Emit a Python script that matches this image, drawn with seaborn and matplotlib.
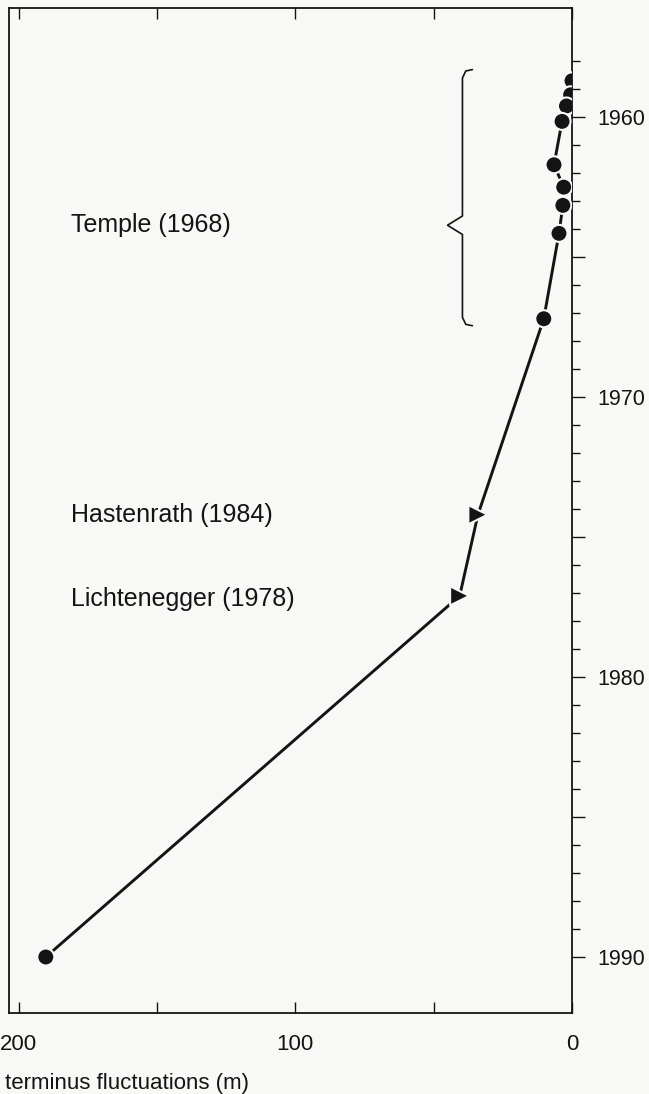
import numpy as np
import pandas as pd
import matplotlib
matplotlib.use('Agg')
import matplotlib.pyplot as plt
import seaborn as sns

# terminus position (m of retreat from the 1958 front) against year
years = [1958.7, 1959.2, 1959.6, 1960.15, 1961.7, 1962.5, 1963.15, 1964.15,
         1967.2, 1974.2, 1977.1, 1990.0]
retreat = [0.0, 0.5, 2.0, 3.6, 6.5, 3.0, 3.3, 4.7, 10.2, 34.0, 40.6, 190.2]
kind = ['circle'] * 9 + ['triangle', 'triangle', 'circle']

# source labels and the span of the Temple (1968) series
sources = ['Temple (1968)', 'Hastenrath (1984)', 'Lichtenegger (1978)']
source_years = [1963.86, 1974.2, 1977.2]
temple_span = [1958.3, 1967.45]

year_ticks = [1960, 1970, 1980, 1990]
dist_ticks = [200, 150, 100, 50, 0]
dist_labels = ['200', '', '100', '', '0']

df = pd.DataFrame({'year': years, 'retreat': retreat, 'kind': kind})

bg = '#f8f8f6'
ink = '#141414'

sns.set_style('ticks')
plt.rcParams['font.family'] = ['Liberation Sans', 'DejaVu Sans']

fig = plt.figure(figsize=(6.49, 10.94), dpi=100, facecolor=bg)
ax = fig.add_axes([9 / 649, 1 - 1013 / 1094, (572 - 9) / 649, (1013 - 8) / 1094])
ax.set_facecolor(bg)

sns.lineplot(data=df, x='retreat', y='year', sort=False, estimator=None,
             color=ink, linewidth=2.1, ax=ax)
sns.scatterplot(data=df, x='retreat', y='year', style='kind', size='kind',
                markers={'circle': 'o', 'triangle': '>'},
                sizes={'circle': 150, 'triangle': 190}, color=ink,
                edgecolor=bg, linewidth=1.5, legend=False, ax=ax, zorder=3)

# curly bracket marking the Temple (1968) observations
bx, tip, hook = 39.6, 45.0, 36.0
mid = source_years[0]
top, bot = temple_span
bxs = [hook, bx - 1.2, bx, bx, tip, bx, bx, bx - 1.2, hook]
bys = [top, top + 0.05, top + 0.3, mid - 0.33, mid, mid + 0.33,
       bot - 0.3, bot - 0.05, bot]
ax.plot(bxs, bys, color=ink, linewidth=1.2)

for label, yr in zip(sources, source_years):
    ax.text(181, yr, label, fontsize=18, color=ink, ha='left', va='center')

ax.set_xlim(203.5, 0)
ax.set_ylim(1992.0, 1956.1)

ax.set_xticks(dist_ticks)
ax.set_xticklabels(dist_labels)
ax.tick_params(axis='x', which='both', top=True, bottom=True, direction='in',
               length=8, width=1.0, labelsize=16, pad=15, colors=ink)

ax.yaxis.tick_right()
ax.set_yticks(np.arange(1960, 1991, 5))
ax.set_yticklabels([str(y) if y in year_ticks else '' for y in range(1960, 1991, 5)])
ax.set_yticks(np.arange(1958, 1991, 1), minor=True)
ax.tick_params(axis='y', which='major', direction='out', length=9, width=1.0,
               labelsize=15.5, pad=9, colors=ink)
ax.tick_params(axis='y', which='minor', direction='out', length=5.5, width=1.0,
               colors=ink)

for s in ax.spines.values():
    s.set_visible(True)
    s.set_linewidth(1.3)
    s.set_color(ink)

ax.set_xlabel('terminus fluctuations (m)', fontsize=16, color=ink, ha='left', va='center')
ax.xaxis.set_label_coords(-0.007, -0.07)
ax.set_ylabel('')

fig.savefig('out.png', dpi=100, facecolor=bg)
